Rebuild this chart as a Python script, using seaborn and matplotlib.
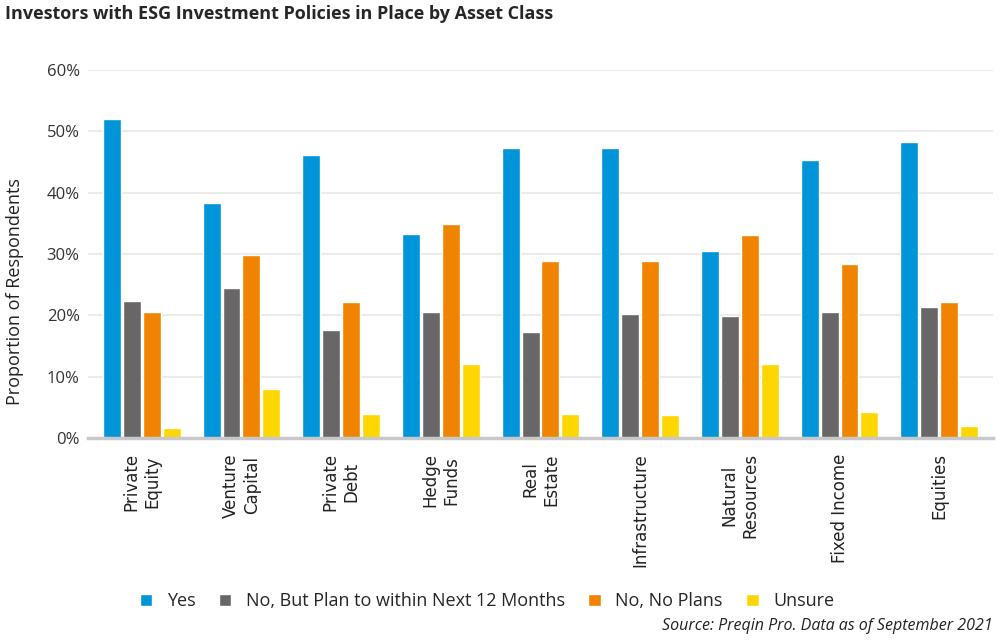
import pandas as pd
import seaborn as sns
import matplotlib.pyplot as plt
from matplotlib.patches import Patch
from matplotlib.ticker import PercentFormatter

asset_classes = ['Private\nEquity', 'Venture\nCapital', 'Private\nDebt', 'Hedge\nFunds',
                 'Real\nEstate', 'Infrastructure', 'Natural\nResources', 'Fixed Income', 'Equities']
series = ['Yes', 'No, But Plan to within Next 12 Months', 'No, No Plans', 'Unsure']
yes = [52.0, 38.3, 46.2, 33.3, 47.3, 47.3, 30.5, 45.4, 48.3]
plan = [22.3, 24.5, 17.6, 20.6, 17.3, 20.2, 19.9, 20.6, 21.4]
no_plans = [20.6, 29.9, 22.2, 34.9, 28.9, 28.9, 33.1, 28.4, 22.2]
unsure = [1.6, 8.0, 3.9, 12.1, 3.9, 3.8, 12.1, 4.2, 2.0]
colors = ['#0095d9', '#686667', '#f08300', '#ffd700']

rows = []
for name, vals in zip(series, [yes, plan, no_plans, unsure]):
    for cat, v in zip(asset_classes, vals):
        rows.append({'asset': cat, 'answer': name, 'value': v})
df = pd.DataFrame(rows)

sns.set_style('white')
plt.rcParams['font.family'] = ['Open Sans', 'DejaVu Sans']

fig = plt.figure(figsize=(10, 6.43), dpi=100)
ax = fig.add_axes([0.088, 0.319, 0.905, 0.572])

sns.barplot(data=df, x='asset', y='value', hue='answer', palette=colors,
            width=0.8, gap=0.1, ax=ax, legend=False, saturation=1)

ax.set_ylim(0, 60)
ax.set_xlim(-0.54, 8.54)
ax.yaxis.set_major_formatter(PercentFormatter(decimals=0))
ax.set_yticks(range(0, 61, 10))
ax.grid(axis='y', color='#ebebeb', linewidth=1.5)
ax.set_axisbelow(True)
for s in ['left', 'right', 'top']:
    ax.spines[s].set_visible(False)
ax.spines['bottom'].set_color('#c8c8c8')
ax.spines['bottom'].set_linewidth(2.5)
ax.tick_params(axis='both', length=0)
ax.tick_params(axis='y', labelsize=12, colors='#333333', pad=6)
ax.tick_params(axis='x', pad=11)
ax.set_xticks(range(len(asset_classes)))
ax.set_xticklabels(asset_classes, rotation=90, fontsize=12, family='DejaVu Sans',
                   ha='center', va='top', color='#222222')
ax.set_xlabel('')
ax.set_ylabel('Proportion of Respondents', fontsize=13, color='#222222')
ax.yaxis.set_label_coords(-0.071, 0.397)

fig.text(0.005, 0.978, 'Investors with ESG Investment Policies in Place by Asset Class',
         fontsize=13, fontweight='bold', va='center', ha='left')

handles = [Patch(facecolor=c, label=s) for c, s in zip(colors, series)]
fig.legend(handles=handles, loc='center', bbox_to_anchor=(0.487, 0.065), ncol=4,
           frameon=False, fontsize=13, handlelength=0.7, handleheight=0.7,
           handletextpad=0.8, columnspacing=1.3)

fig.text(0.993, 0.027, 'Source: Preqin Pro. Data as of September 2021',
         fontsize=11.5, style='italic', ha='right', va='center', color='#222222')

fig.savefig('out.png', dpi=100)
